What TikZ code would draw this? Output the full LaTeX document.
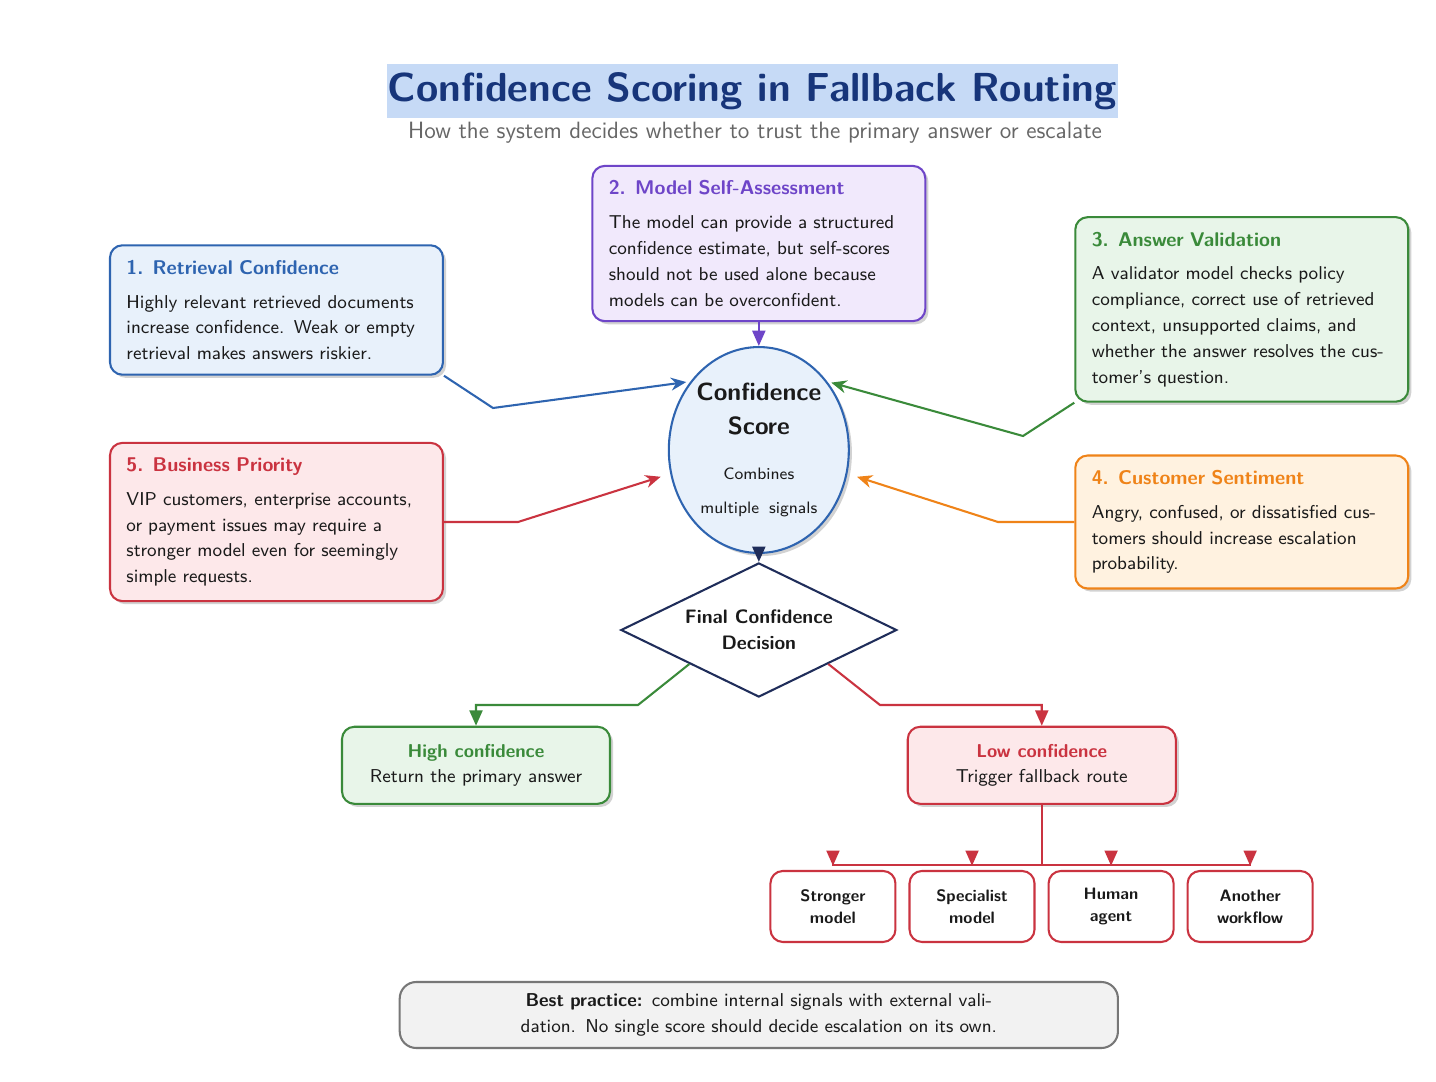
\documentclass[tikz,border=0pt]{standalone}
\usepackage{fontspec}
\renewcommand{\familydefault}{\sfdefault}
\usepackage{xcolor}
\usetikzlibrary{arrows.meta,positioning,shapes.geometric,shadows,calc}
\definecolor{cfInk}{HTML}{1A1A1A}
\definecolor{cfTitle}{HTML}{17357A}
\definecolor{cfTitleBg}{HTML}{C6DAF6}
\definecolor{cfSub}{HTML}{666666}
\definecolor{cfBlue}{HTML}{2E64B0}
\definecolor{cfLightBlue}{HTML}{E8F1FB}
\definecolor{cfViolet}{HTML}{6E45C8}
\definecolor{cfLightViolet}{HTML}{F1E9FC}
\definecolor{cfGreen}{HTML}{3A8A3A}
\definecolor{cfLightGreen}{HTML}{E8F5E9}
\definecolor{cfOrange}{HTML}{EF8318}
\definecolor{cfLightOrange}{HTML}{FFF2E0}
\definecolor{cfRed}{HTML}{CA3340}
\definecolor{cfLightRed}{HTML}{FDE8EA}
\definecolor{cfNavy}{HTML}{1F2D5A}
\definecolor{cfGrayBg}{HTML}{F2F2F2}
\definecolor{cfGray}{HTML}{777777}
\newcommand{\bodyfont}{\fontsize{9}{12.5}\selectfont}
\newcommand{\fbfont}{\fontsize{8}{10.6}\selectfont\bfseries}
\newcommand{\scorefont}{\fontsize{8}{16.4}\selectfont}
\newcommand{\sigtitle}[2]{{\fontsize{9.6}{12}\selectfont\bfseries\color{#1}#2}\\[3.9pt]}
\tikzset{
  sigbox/.style={rectangle,rounded corners=6pt,
    text width=5.1cm,inner xsep=0.28cm,inner ysep=0.25cm,
    align=left,line width=1pt,font=\bodyfont,text=cfInk,
    drop shadow={shadow xshift=1.5pt,shadow yshift=-1.5pt,opacity=0.35}},
  bsig/.style={sigbox,draw=cfBlue,fill=cfLightBlue},
  vsig/.style={sigbox,draw=cfViolet,fill=cfLightViolet},
  gsig/.style={sigbox,draw=cfGreen,fill=cfLightGreen},
  osig/.style={sigbox,draw=cfOrange,fill=cfLightOrange},
  rsig/.style={sigbox,draw=cfRed,fill=cfLightRed},
  outbox/.style={rectangle,rounded corners=6pt,
    minimum width=4.556cm,minimum height=1.31cm,
    align=center,line width=1pt,font=\bodyfont,text=cfInk,
    drop shadow={shadow xshift=1.5pt,shadow yshift=-1.5pt,opacity=0.35}},
  fbbox/.style={rectangle,rounded corners=6pt,
    minimum width=2.125cm,minimum height=1.207cm,
    align=center,line width=1pt,draw=cfRed,fill=white,
    font=\fbfont,text=cfInk},
  sigarr/.style={-{Stealth[length=0.26cm,width=0.22cm]},line width=1pt,shorten >=2pt},
  arr/.style={-{Triangle[length=0.26cm,width=0.22cm]},line width=1pt},
}

\begin{document}
\begin{tikzpicture}[node distance=0.204cm]
  \useasboundingbox[fill=white] (0,0) rectangle (24.412,-18.394);

  % heading
  \node[fill=cfTitleBg,text=cfTitle,font=\fontsize{19.6}{23}\selectfont\bfseries,
    minimum width=12.43cm,minimum height=0.918cm,inner sep=0] (title)
    at (12.79,-1.547) {Confidence Scoring in Fallback Routing};
  \node[text=cfSub,font=\fontsize{11.4}{14}\selectfont,inner sep=0] (subtitle)
    at (12.835,-2.261)
    {How the system decides whether to trust the primary answer or escalate};

  % signals
  \node[bsig] (retr) at (4.70,-5.27)
    {\sigtitle{cfBlue}{1. Retrieval Confidence}Highly relevant retrieved documents\\
     increase confidence. Weak or empty\\retrieval makes answers riskier.};
  \node[vsig] (self) at (12.90,-4.14)
    {\sigtitle{cfViolet}{2. Model Self-Assessment}The model can provide a structured\\
     confidence estimate, but self-scores\\should not be used alone because\\
     models can be overconfident.};
  \node[gsig] (valid) at (21.11,-5.26)
    {\sigtitle{cfGreen}{3. Answer Validation}A validator model checks policy\\
     compliance, correct use of retrieved\\context, unsupported claims, and\\
     whether the answer resolves the cus-\\tomer's question.};
  \node[osig] (sent) at (21.11,-8.874)
    {\sigtitle{cfOrange}{4. Customer Sentiment}Angry, confused, or dissatisfied cus-\\
     tomers should increase escalation\\probability.};
  \node[rsig] (prio) at (4.70,-8.874)
    {\sigtitle{cfRed}{5. Business Priority}VIP customers, enterprise accounts,\\
     or payment issues may require a\\stronger model even for seemingly\\
     simple requests.};

  % score and decision
  \node[ellipse,draw=cfBlue,fill=cfLightBlue,line width=1pt,
    minimum width=3.06cm,minimum height=3.5cm,inner sep=0,align=center,
    font=\scorefont,text=cfInk,
    drop shadow={shadow xshift=1.5pt,shadow yshift=-1.5pt,opacity=0.35}] (score)
    at (12.90,-7.65)
    {{\large\bfseries Confidence}\\{\large\bfseries Score}\\[5.3pt]Combines\\
     multiple\hspace{2pt} signals};
  \node[diamond,draw=cfNavy,fill=white,line width=1pt,aspect=2.06,
    minimum width=4.69cm,minimum height=2.28cm,inner sep=1pt,align=center,
    font=\fontsize{9.4}{12.5}\selectfont\bfseries,text=cfInk] (dec) at (12.90,-10.71)
    {Final Confidence\\ Decision};

  % outcomes
  \node[outbox,draw=cfGreen,fill=cfLightGreen] (high) at (8.092,-13.01)
    {\textcolor{cfGreen}{\bfseries High confidence}\\ Return the primary answer};
  \node[outbox,draw=cfRed,fill=cfLightRed] (low) at (17.71,-13.01)
    {\textcolor{cfRed}{\bfseries Low confidence}\\ Trigger fallback route};

  \node[fbbox] (strong) at (14.16,-15.41) {Stronger\\ model};
  \node[fbbox,right=of strong] (spec) {Specialist\\ model};
  \node[fbbox,right=of spec] (human) {Human\\ agent};
  \node[fbbox,right=of human] (other) {Another\\ workflow};

  \node[rectangle,rounded corners=8pt,draw=cfGray,fill=cfGrayBg,line width=1pt,
    minimum width=12.21cm,minimum height=1.122cm,text width=9cm,align=center,
    font=\bodyfont,text=cfInk] (tip) at (12.90,-17.255)
    {\textbf{Best practice:} combine internal signals with external vali-\\
     dation. No single score should decide escalation on its own.};

  % connectors
  \draw[sigarr,cfBlue] (retr.south east) -- (8.381,-6.936) -- (score.135);
  \draw[sigarr,cfGreen] (valid.south west) -- (17.391,-7.412) -- (score.45);
  \draw[sigarr,cfRed,shorten >=0.17cm] (prio.east) -- (8.806,-8.874) -- (score.195);
  \draw[sigarr,cfOrange,shorten >=0.17cm] (sent.west) -- (16.966,-8.874) -- (score.-15);
  \draw[arr,cfViolet] (self.south) -- (score.north);
  \draw[arr,cfNavy] (score.south) -- (dec.north);

  \draw[arr,cfGreen] (dec.south west) -- (10.846,-11.985) -| (high.north);
  \draw[arr,cfRed] (dec.south east) -- (14.96,-11.985) -| (low.north);

  \coordinate (split) at ([yshift=-1.02cm]low.south);
  \foreach \fb in {strong,spec,human,other}
    \draw[arr,cfRed,shorten >=2pt] (low.south) -- (split) -| (\fb.north);
\end{tikzpicture}
\end{document}
